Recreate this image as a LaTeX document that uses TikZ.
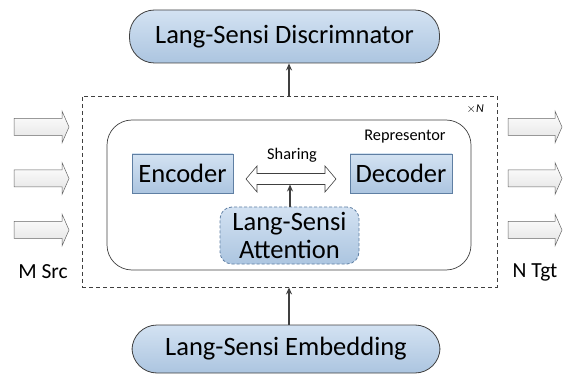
\documentclass[tikz,border=0pt]{standalone}
\usepackage{fontspec}
\setmainfont{Carlito}
\usetikzlibrary{arrows.meta}
\definecolor{edgegray}{HTML}{404040}
\definecolor{boxbluetop}{HTML}{D3E2F2}
\definecolor{boxbluebot}{HTML}{ACC5E0}
\definecolor{blueedge}{HTML}{5F7FA3}
\tikzset{
  bigtext/.style={font=\fontsize{26.5}{29}\selectfont},
  stadium/.style={draw=edgegray, line width=0.8pt, rounded corners=25pt, top color=boxbluetop, bottom color=boxbluebot, inner sep=0pt, bigtext},
  codebox/.style={draw=blueedge, line width=0.8pt, top color=boxbluetop, bottom color=boxbluebot, inner sep=0pt, bigtext},
  attbox/.style={draw=blueedge, dashed, dash pattern=on 3pt off 2pt, line width=0.8pt, rounded corners=12pt, top color=boxbluetop, bottom color=boxbluebot, inner sep=0pt, align=center, bigtext},
  stackbox/.style={draw=edgegray, line width=0.8pt, dash pattern=on 4pt off 3pt, inner sep=0pt},
  repbox/.style={draw=edgegray, line width=0.7pt, rounded corners=25pt, inner sep=0pt},
  conn/.style={draw=edgegray, line width=1.3pt, -{Stealth[length=7pt,width=6pt]}},
  blockarrow/.style={draw=edgegray!80, line width=0.5pt, top color=white, bottom color=gray!22},
  midlabel/.style={font=\fontsize{16.3}{18}\selectfont, inner sep=0pt},
  sidelabel/.style={font=\fontsize{21.5}{24}\selectfont, inner sep=0pt}
}
\begin{document}
\begin{tikzpicture}[x=1pt,y=-1pt]
\useasboundingbox (0,0) rectangle (565,374);

% top and bottom stadiums
\node[stadium, minimum width=310pt, minimum height=53pt] (disc) at (284.5,36.5) {Lang-Sensi Discrimnator};
\node[stadium, minimum width=308pt, minimum height=48pt] (emb) at (286,349) {Lang-Sensi Embedding};

% dashed stack box
\node[stackbox, minimum width=415pt, minimum height=191pt] (stack) at (289.5,191.5) {};
\node[font=\fontsize{12}{13}\selectfont, inner sep=0pt, anchor=east] (times) at (484,109) {$\times$\textit{N}};

% representor
\node[repbox, minimum width=364pt, minimum height=150pt] (rep) at (289,195) {};
\node[midlabel] (replabel) at (405,137) {Representor};

% encoder / decoder
\node[codebox, minimum width=101pt, minimum height=39pt] (enc) at (182.5,173.5) {Encoder};
\node[codebox, minimum width=102pt, minimum height=39pt] (dec) at (401,173.5) {Decoder};

% sharing double arrow
\draw[draw=edgegray, line width=0.6pt, fill=white]
  (246,179) -- (257,166) -- (257,173.5) -- (325,173.5) -- (325,166) -- (336,179)
  -- (325,192) -- (325,184.5) -- (257,184.5) -- (257,192) -- cycle;
\coordinate (shbot) at (290,184.5);
\node[midlabel] (sharing) at (292,155) {Sharing};

% attention
\node[attbox, minimum width=139pt, minimum height=57pt] (att) at (289.5,235.5) {Lang-Sensi\\[-1pt]Attention};

% connectors
\draw[conn] (att.north -| shbot) -- (shbot);
\coordinate (topout) at (289,96);
\draw[conn] (topout) -- (topout |- disc.south);
\coordinate (botin) at (289,325);
\draw[conn] (emb.north -| botin) -- (botin |- stack.south);

% side block arrows
\foreach \y in {127,178.5,230}{
  \draw[blockarrow] (14,\y-8.5) -- (62,\y-8.5) -- (62,\y-16) -- (69,\y) -- (62,\y+16) -- (62,\y+8.5) -- (14,\y+8.5) -- cycle;
  \draw[blockarrow] (508,\y-8.5) -- (555,\y-8.5) -- (555,\y-16) -- (562,\y) -- (555,\y+16) -- (555,\y+8.5) -- (508,\y+8.5) -- cycle;
}
\node[sidelabel] (msrc) at (43,272) {M Src};
\node[sidelabel] (ntgt) at (535,272) {N Tgt};
\end{tikzpicture}
\end{document}
